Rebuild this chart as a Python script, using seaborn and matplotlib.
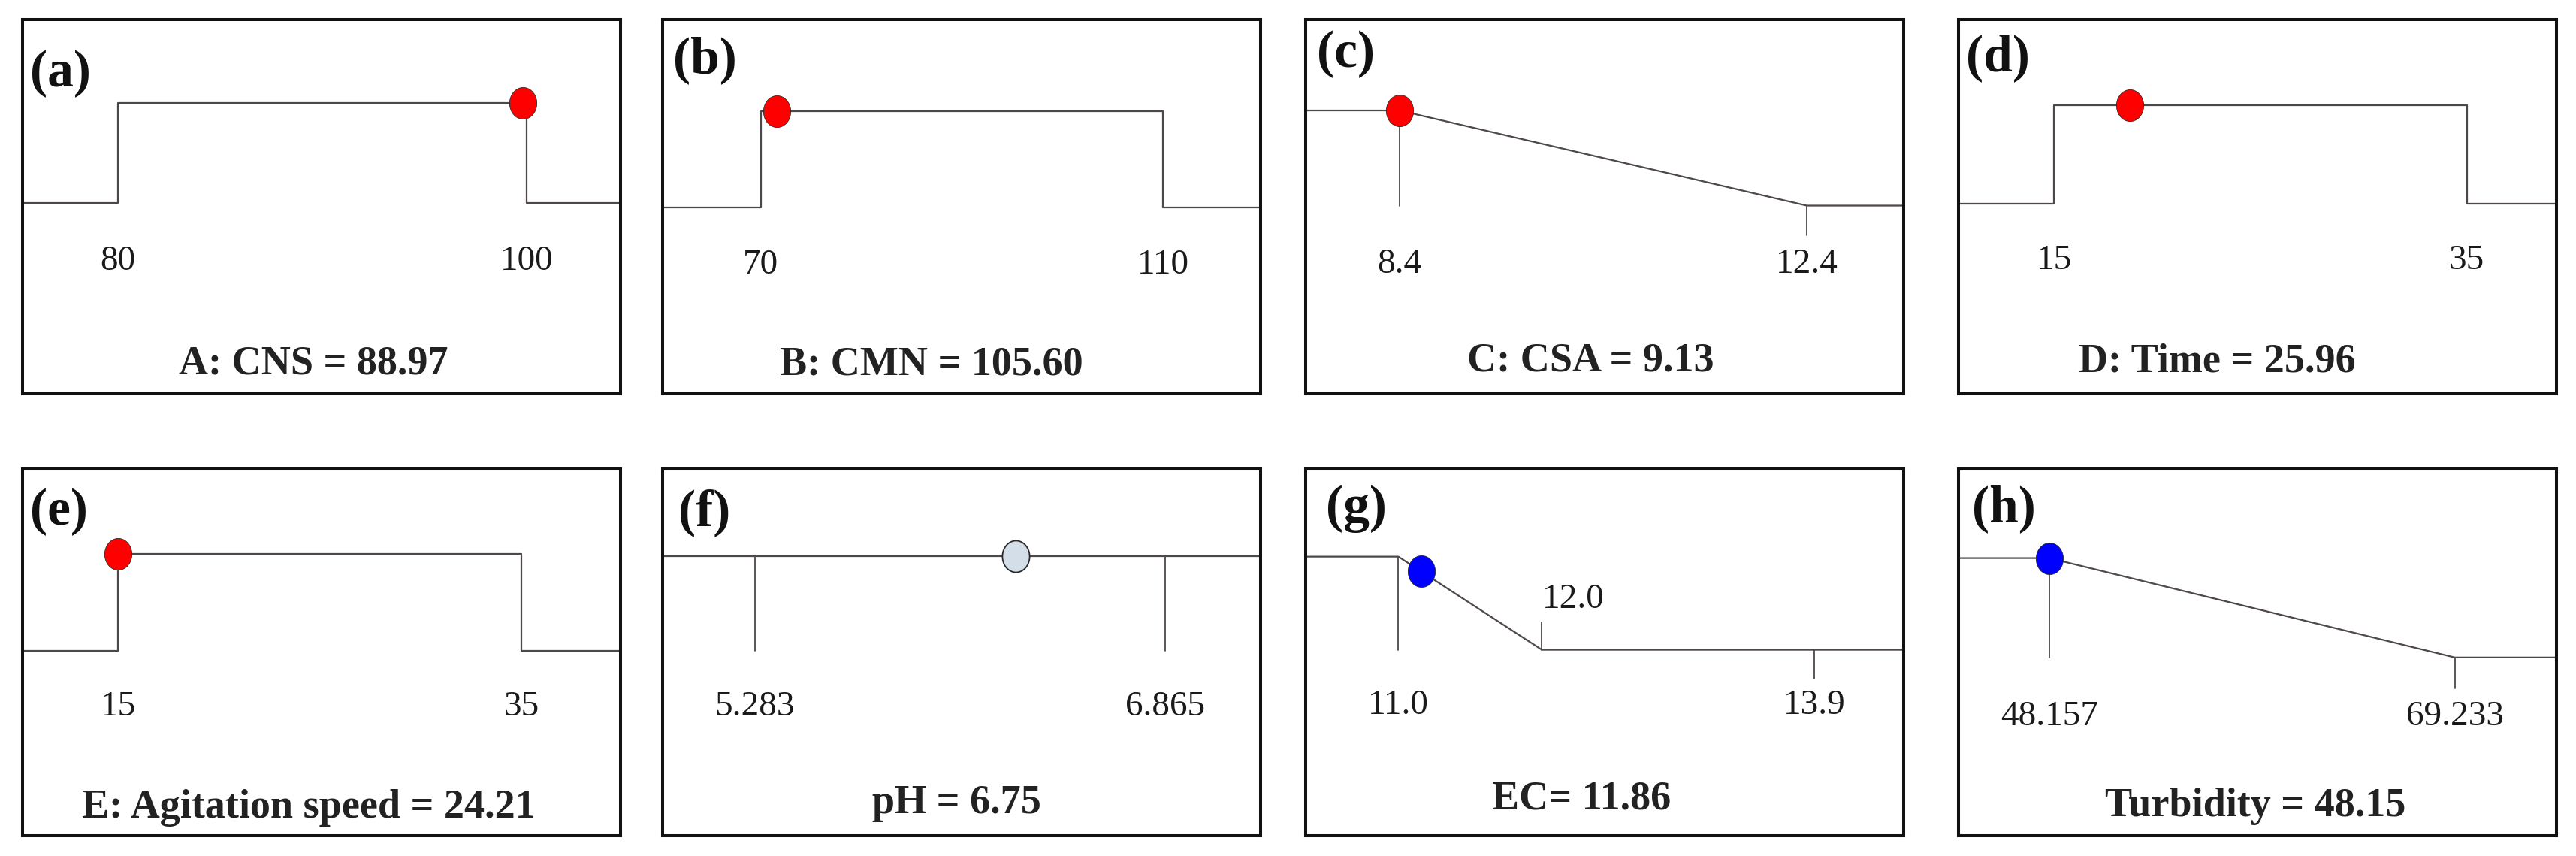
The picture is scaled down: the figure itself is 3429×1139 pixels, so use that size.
import numpy as np
import pandas as pd
import matplotlib
matplotlib.use("Agg")
import matplotlib.pyplot as plt
import matplotlib.transforms as mtransforms
from matplotlib.path import Path
import seaborn as sns

# ---------------- data ----------------
panel_labels = ['(a)', '(b)', '(c)', '(d)', '(e)', '(f)', '(g)', '(h)']
titles = ['A: CNS = 88.97', 'B: CMN = 105.60', 'C: CSA = 9.13', 'D: Time = 25.96',
          'E: Agitation speed = 24.21', 'pH = 6.75', 'EC= 11.86', 'Turbidity = 48.15']
low_vals = [80, 70, 8.4, 15, 15, 5.283, 11.0, 48.157]
high_vals = [100, 110, 12.4, 35, 35, 6.865, 13.9, 69.233]
low_text = ['80', '70', '8.4', '15', '15', '5.283', '11.0', '48.157']
high_text = ['100', '110', '12.4', '35', '35', '6.865', '13.9', '69.233']
goals = ['range', 'range', 'minimize', 'range', 'range', 'none', 'minimize', 'minimize']
ramp_end = [None, None, 12.4, None, None, None, 12.0, 69.233]
ramp_end_text = [None, None, None, None, None, None, '12.0', None]
dot_x = [99.8, 71.6, 8.4, 18.65, 15.0, 6.29, 11.16, 48.157]
dot_kind = ['factor', 'factor', 'factor', 'factor', 'factor', 'off', 'response', 'response']

# ---------------- layout / style ----------------
W, H, DPI = 3430, 1139, 100
box_left_px = [30, 882, 1738, 2607]
box_width_px = 796
row_top_px = [26, 624]
row_bottom_px = [524, 1112]

x_lo_frac = [0.159, 0.164, 0.157, 0.160, 0.160, 0.154, 0.155, 0.152]
x_hi_frac = [0.843, 0.837, 0.838, 0.850, 0.834, 0.840, 0.851, 0.830]
y_lo_frac = [0.510, 0.497, 0.503, 0.509, 0.504, 0.504, 0.507, 0.486]
y_hi_frac = [0.777, 0.755, 0.757, 0.771, 0.769, 0.762, 0.761, 0.757]
tick_label_y = [0.353, 0.344, 0.345, 0.356, 0.351, 0.350, 0.354, 0.325]
title_x = [0.487, 0.450, 0.477, 0.433, 0.478, 0.492, 0.461, 0.496]
title_y = [0.080, 0.078, 0.088, 0.085, 0.076, 0.088, 0.099, 0.080]
label_x = [0.012, 0.017, 0.019, 0.012, 0.013, 0.027, 0.034, 0.022]
label_y = [0.856, 0.892, 0.907, 0.898, 0.882, 0.881, 0.892, 0.891]

dot_colors = {'factor': '#ff0000', 'off': '#d3dee8', 'response': '#0000ff'}
line_color = '#4f4848'
tick_len = 0.31

sns.set_theme(style="white")
plt.rcParams['font.family'] = ['Liberation Serif', 'DejaVu Serif']
plt.rcParams['axes.linewidth'] = 2.9

# ellipse marker (slightly taller than wide)
th = np.linspace(0, 2 * np.pi, 60)
ell = Path(np.column_stack([0.43 * np.cos(th), 0.5 * np.sin(th)]), closed=True)

fig = plt.figure(figsize=(W / DPI, H / DPI), dpi=DPI)
fig.patch.set_facecolor('white')


def profile(i, xmin, xmax):
    lo, hi, g = low_vals[i], high_vals[i], goals[i]
    if g == 'range':
        return [xmin, lo, lo, hi, hi, xmax], [0, 0, 1, 1, 0, 0]
    if g == 'minimize':
        return [xmin, lo, ramp_end[i], xmax], [1, 1, 0, 0]
    return [xmin, xmax], [1, 1]


def desirability(i, x):
    lo, hi, g = low_vals[i], high_vals[i], goals[i]
    if g == 'range':
        return 1.0 if lo <= x <= hi else 0.0
    if g == 'minimize':
        return float(np.interp(x, [lo, ramp_end[i]], [1, 0]))
    return 1.0


for i in range(8):
    r, c = divmod(i, 4)
    left = box_left_px[c] / W
    bottom = (H - row_bottom_px[r]) / H
    height = (row_bottom_px[r] - row_top_px[r]) / H
    ax = fig.add_axes([left, bottom, box_width_px / W, height])

    lo, hi = low_vals[i], high_vals[i]
    xs_scale = (hi - lo) / (x_hi_frac[i] - x_lo_frac[i])
    xmin = lo - x_lo_frac[i] * xs_scale
    xmax = xmin + xs_scale
    ys_scale = 1.0 / (y_hi_frac[i] - y_lo_frac[i])
    ymin = -y_lo_frac[i] * ys_scale
    ymax = ymin + ys_scale

    px, py = profile(i, xmin, xmax)
    df = pd.DataFrame({'x': px, 'y': py})
    sns.lineplot(data=df, x='x', y='y', ax=ax, sort=False, estimator=None,
                 color=line_color, lw=1.6)

    # vertical marker lines
    g = goals[i]
    vl = []
    if g == 'minimize':
        vl.append((lo, 1, 0))
        if ramp_end[i] != hi:
            vl.append((ramp_end[i], 0, tick_len * 0.95))
        vl.append((hi, 0, -tick_len))
    elif g == 'none':
        vl.append((lo, 1, 0))
        vl.append((hi, 1, 0))
    for (vx, y0, y1) in vl:
        ax.plot([vx, vx], [y0, y1], color=line_color, lw=1.3)

    # dot
    dx = dot_x[i]
    ddf = pd.DataFrame({'x': [dx], 'y': [desirability(i, dx)]})
    sns.scatterplot(data=ddf, x='x', y='y', ax=ax, s=920, marker=ell,
                    color=dot_colors[dot_kind[i]], edgecolor='#2a2a2a',
                    linewidth=1.3 if dot_kind[i] == 'off' else 0.6, zorder=5)

    ax.set_xlim(xmin, xmax)
    ax.set_ylim(ymin, ymax)
    ax.set_xticks([])
    ax.set_yticks([])
    ax.set_xlabel('')
    ax.set_ylabel('')
    for sp in ax.spines.values():
        sp.set_visible(True)
        sp.set_color('#111111')
        sp.set_linewidth(2.9)

    trans = mtransforms.blended_transform_factory(ax.transData, ax.transAxes)
    ax.text(lo, tick_label_y[i], low_text[i], transform=trans, ha='center',
            va='center', fontsize=34, color='#1a1a1a')
    ax.text(hi, tick_label_y[i], high_text[i], transform=trans, ha='center',
            va='center', fontsize=34, color='#1a1a1a')
    if ramp_end_text[i] is not None:
        ax.text(ramp_end[i], 0.644, ramp_end_text[i], transform=trans,
                ha='left', va='center', fontsize=34, color='#1a1a1a')

    ax.text(label_x[i], label_y[i], panel_labels[i], transform=ax.transAxes,
            ha='left', va='center', fontsize=50, fontweight='bold', color='#111111')
    ax.text(title_x[i], title_y[i], titles[i], transform=ax.transAxes,
            ha='center', va='center', fontsize=39, fontweight='bold', color='#222222')

fig.savefig('out.png', dpi=DPI, facecolor='white')
